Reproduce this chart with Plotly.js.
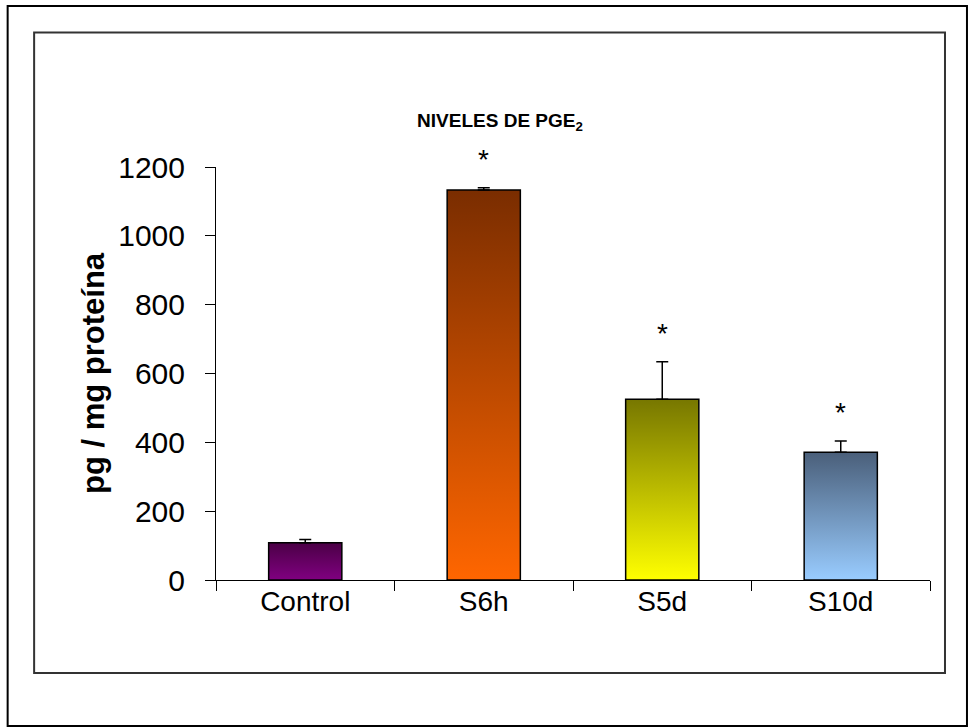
<!DOCTYPE html>
<html>
<head>
<meta charset="utf-8">
<script src="https://cdn.plot.ly/plotly-3.0.1.min.js"></script>
<style>
  html, body { margin: 0; padding: 0; background: #fff; }
  #chart { width: 969px; height: 727px; }
</style>
</head>
<body>
<div id="chart"></div>
<script>
// ---- data ----
const categories = ["Control", "S6h", "S5d", "S10d"];
const values = [108, 1133, 525, 371];
const errorsUp = [10, 7, 109, 33];
const significance = ["", "*", "*", "*"];
const gradientTop = ["#4b0046", "#7a2d00", "#777700", "#4a5f7a"];
const gradientBottom = ["#800080", "#ff6600", "#ffff00", "#99ccff"];
const yTicks = [0, 200, 400, 600, 800, 1000, 1200];

const W = 969, H = 727;
const M = { l: 215.5, r: 39, t: 167, b: 147 };
const pw = W - M.l - M.r, ph = H - M.t - M.b;
const px = v => (v - M.l) / pw;
const py = v => 1 - (v - M.t) / ph;

const trace = {
  type: "bar",
  x: categories,
  y: values,
  marker: { color: gradientBottom, line: { color: "#000", width: 1.5 } },
  error_y: { type: "data", array: errorsUp, arrayminus: values.map(() => 0), symmetric: false,
             color: "#000", thickness: 1.5, width: 6 },
  hoverinfo: "x+y"
};

const annotations = categories.map((c, i) => ({
  x: c, y: values[i] + errorsUp[i], xref: "x", yref: "y",
  text: significance[i], showarrow: false, yanchor: "bottom", yshift: 11,
  font: { family: "Liberation Sans, Arial, sans-serif", size: 28, color: "#000" }
})).filter(a => a.text);

const layout = {
  width: W, height: H,
  margin: M,
  paper_bgcolor: "#fff", plot_bgcolor: "#fff",
  showlegend: false,
  bargap: 0.59,
  font: { family: "Liberation Sans, Arial, sans-serif", color: "#000" },
  title: {
    text: "<b>NIVELES DE PGE<sub>2</sub></b>",
    font: { size: 19, color: "#000" },
    xref: "container", yref: "container",
    x: 500 / W, y: 1 - 120 / H, xanchor: "center", yanchor: "middle"
  },
  xaxis: {
    type: "category", range: [-0.5, 3.5],
    showline: true, linecolor: "#000", linewidth: 1,
    ticks: "outside", tickson: "boundaries", ticklen: 10, tickcolor: "#000", tickwidth: 1,
    ticklabelstandoff: -4,
    tickfont: { size: 28, color: "#000" },
    showgrid: false, zeroline: false, fixedrange: true
  },
  yaxis: {
    range: [0, 1200], tickvals: yTicks,
    showline: true, linecolor: "#000", linewidth: 1,
    ticks: "outside", ticklen: 10, tickcolor: "#000", tickwidth: 1,
    ticklabelstandoff: 14,
    tickfont: { size: 30, color: "#000" },
    showgrid: false, zeroline: false, fixedrange: true,
    title: { text: "<b>pg / mg proteína</b>", font: { size: 31, color: "#000" }, standoff: 4 }
  },
  annotations: annotations,
  shapes: [
    { type: "rect", xref: "paper", yref: "paper", x0: px(7), x1: px(967), y0: py(6), y1: py(726),
      line: { color: "#000", width: 2 }, layer: "below" },
    { type: "rect", xref: "paper", yref: "paper", x0: px(33.5), x1: px(945), y0: py(32.5), y1: py(673),
      line: { color: "#333", width: 2 }, layer: "below" }
  ]
};

Plotly.newPlot("chart", [trace], layout, { displayModeBar: false, staticPlot: true }).then(gd => {
  const svg = gd.querySelector(".main-svg");
  let defs = svg.querySelector("defs");
  if (!defs) { defs = document.createElementNS("http://www.w3.org/2000/svg", "defs"); svg.insertBefore(defs, svg.firstChild); }
  const paths = gd.querySelectorAll(".barlayer .point path");
  paths.forEach((p, i) => {
    const id = "barGrad" + i;
    const lg = document.createElementNS("http://www.w3.org/2000/svg", "linearGradient");
    lg.setAttribute("id", id);
    lg.setAttribute("x1", "0"); lg.setAttribute("y1", "0");
    lg.setAttribute("x2", "0"); lg.setAttribute("y2", "1");
    [[0, gradientTop[i]], [1, gradientBottom[i]]].forEach(([o, c]) => {
      const s = document.createElementNS("http://www.w3.org/2000/svg", "stop");
      s.setAttribute("offset", o); s.setAttribute("stop-color", c);
      lg.appendChild(s);
    });
    defs.appendChild(lg);
    p.style.fill = "url(#" + id + ")";
  });
});
</script>
</body>
</html>
